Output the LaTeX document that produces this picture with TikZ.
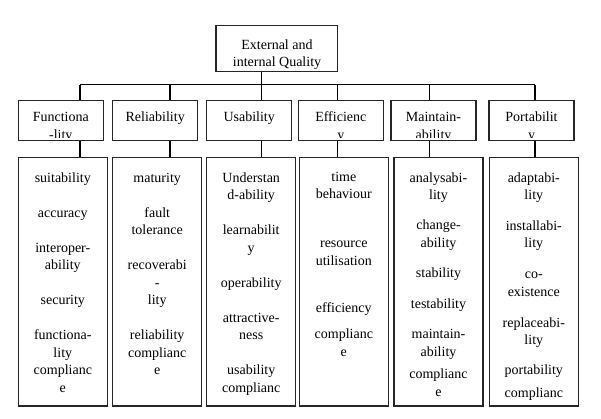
\documentclass[tikz,border=0pt]{standalone}
\usepackage{fontspec}
\setmainfont{Liberation Serif}
\usepackage{tikz}

\begin{document}
\begin{tikzpicture}[x=1pt,y=-1pt,line width=1.3pt,
    box/.style={draw=black!85,inner sep=0pt},
    txt/.style={align=center,anchor=base,inner sep=0pt,font=\fontsize{14}{17.5}\selectfont}]
  \useasboundingbox (0,0) rectangle (601,418);
  % top box (text y = baseline of last line)
  \node[box,minimum width=121.7pt,minimum height=45.6pt] (top) at (276.8,48.6) {};
  \node[txt] (toptxt) at (277,66.5) {External and\\internal Quality};
  % sub-characteristic boxes and bus points
  \foreach \i/\l/\j in {1/18.3/80,2/112.7/170,3/206.7/261.7,4/298.3/337.7,5/391/429.3,6/489/535}{
    \node[box,minimum width=85pt,minimum height=40pt] (c\i) at (\l+42.5,120.7) {};
    \coordinate (b\i) at (\j,84.7);
  }
  \foreach \i/\l in {1/18.3,2/112.7,3/206.7,4/299.3,5/394,6/489.3}
    \node[box,minimum width=89pt,minimum height=248.7pt] (d\i) at (\l+44.5,281.7) {};
  % connectors
  \draw (b1) -- (b6);
  \draw (top.south -| b3) -- (b3);
  \foreach \i in {1,...,6}
    \draw (b\i) -- (b\i |- c\i.north) (c\i.south -| b\i) -- (b\i |- d\i.north);
  % names, cut off at the bottom of the box
  \foreach \i/\y/\t in {1/134.5/{Functiona\\-lity},2/117/Reliability,3/117/Usability,4/134.5/{Efficienc\\y},5/134.5/{Maintain-\\ability},6/134.5/{Portabilit\\y}}{
    \begin{scope}
      \clip ([yshift=3.5pt]c\i.south west) rectangle (c\i.north east);
      \node[txt] (n\i) at (c\i.north |- 0,\y+4.5) {\t};
    \end{scope}
  }
  % lists
  \foreach \y/\t [count=\k] in {177.7/suitability,212.7/accuracy,265.2/{interoper-\\ability},300.2/security,387.7/{functiona-\\lity\\complianc\\e}}
    \node[txt] (s1-\k) at (d1.north |- 0,\y+4.5) {\t};
  \foreach \y/\t [count=\k] in {177.7/maturity,230.2/{fault\\tolerance},300.2/{recoverabi\\-\\lity},370.2/{reliability\\complianc\\e}}
    \node[txt] (s2-\k) at (d2.north |- 0,\y+4.5) {\t};
  \foreach \y/\t [count=\k] in {195.2/{Understan\\d-ability},247.7/{learnabilit\\y},282.7/operability,335.2/{attractive-\\ness},387.7/{usability\\complianc}}
    \node[txt] (s3-\k) at (d3.north |- 0,\y+4.5) {\t};
  \foreach \y/\t [count=\k] in {194.3/{time\\behaviour},260.7/{resource\\utilisation},308.3/efficiency,351.7/{complianc\\e}}
    \node[txt] (s4-\k) at (d4.north |- 0,\y+4.5) {\t};
  \foreach \y/\t [count=\k] in {195/{analysabi-\\lity},242.7/{change-\\ability},273.3/stability,304.3/testability,351.7/{maintain-\\ability},391.7/{complianc\\e}}
    \node[txt] (s5-\k) at (d5.north |- 0,\y+4.5) {\t};
  \foreach \y/\t [count=\k] in {195/{adaptabi-\\lity},243.3/{installabi-\\lity},291.7/{co-\\existence},340/{replaceabi-\\lity},370/portability,392.7/complianc}
    \node[txt] (s6-\k) at (d6.north |- 0,\y+4.5) {\t};
\end{tikzpicture}
\end{document}
